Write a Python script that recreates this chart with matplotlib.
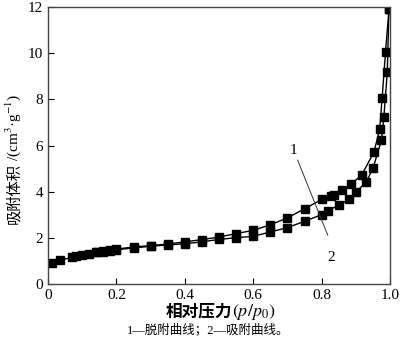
import matplotlib
matplotlib.use('Agg')
import matplotlib.pyplot as plt

# 吸附曲线 (2)
x_ads = [0.011, 0.035, 0.069, 0.082, 0.099, 0.12, 0.143, 0.162, 0.18, 0.20, 0.25, 0.30,
         0.35, 0.40, 0.45, 0.50, 0.55, 0.60, 0.65, 0.70, 0.75, 0.80, 0.82, 0.85, 0.88,
         0.90, 0.93, 0.95, 0.975, 0.982, 0.992, 0.997]
y_ads = [0.91, 1.03, 1.16, 1.20, 1.25, 1.30, 1.38, 1.39, 1.45, 1.49, 1.57, 1.64,
         1.70, 1.75, 1.83, 1.94, 2.01, 2.07, 2.26, 2.45, 2.72, 3.01, 3.19, 3.42, 3.67,
         3.99, 4.41, 5.01, 6.23, 7.22, 9.17, 11.9]

# 脱附曲线 (1)
x_des = [0.997, 0.987, 0.977, 0.97, 0.953, 0.917, 0.885, 0.86, 0.836, 0.828, 0.80,
         0.75, 0.70, 0.65, 0.60, 0.55, 0.50, 0.45, 0.40, 0.35, 0.30, 0.25, 0.20, 0.18,
         0.16, 0.14]
y_des = [11.9, 10.07, 8.07, 6.71, 5.72, 4.72, 4.32, 4.07, 3.87, 3.81, 3.67,
         3.26, 2.87, 2.57, 2.33, 2.19, 2.04, 1.93, 1.83, 1.74, 1.67, 1.61, 1.52, 1.47,
         1.42, 1.40]

x_ticks = [0, 0.2, 0.4, 0.6, 0.8, 1.0]
x_labels = ['0', '0.2', '0.4', '0.6', '0.8', '1.0']
y_ticks = [0, 2, 4, 6, 8, 10, 12]

fam = ['Liberation Serif', 'Noto Sans CJK SC']
plt.rcParams['font.family'] = fam
plt.rcParams['mathtext.fontset'] = 'stix'

fig = plt.figure(figsize=(4.0, 3.53), dpi=100)
ax = fig.add_axes([0.12, 0.195, 0.855, 0.785])

ax.plot(x_ads, y_ads, color='black', lw=1, marker='s', ms=5.5, mfc='black', mec='black')
ax.plot(x_des, y_des, color='black', lw=1, marker='s', ms=5.5, mfc='black', mec='black')

ax.set_xlim(0, 1.0)
ax.set_ylim(0, 12)
ax.set_xticks(x_ticks)
ax.set_xticklabels(x_labels)
ax.set_yticks(y_ticks)
ax.tick_params(direction='in', length=4, labelsize=11, width=0.8)
for s in ax.spines.values():
    s.set_color('#444444')
    s.set_linewidth(1)

# 标注线
ax.plot([0.73, 0.818], [5.37, 2.12], color='#333333', lw=0.7)
ax.text(0.718, 5.8, '1', fontsize=11, ha='center', va='center')
ax.text(0.827, 1.17, '2', fontsize=11, ha='center', va='center')

# y轴标题 (中文和公式分开写)
fig.text(0.034, 0.537, '吸附体积', fontsize=11, rotation=90, ha='center', va='top')
fig.text(0.032, 0.544, '/(cm$^3$·g$^{-1}$)', fontsize=11, rotation=90, ha='center', va='bottom')

fig.text(0.58, 0.116, '相对压力', fontsize=12, fontweight='bold', ha='right', va='center')
fig.text(0.58, 0.116, '$(p/p_0)$', fontsize=13, ha='left', va='center')
fig.text(0.52, 0.065, '1—脱附曲线；2—吸附曲线。', fontsize=9, ha='center', va='center')

fig.savefig('out.png', dpi=100)
